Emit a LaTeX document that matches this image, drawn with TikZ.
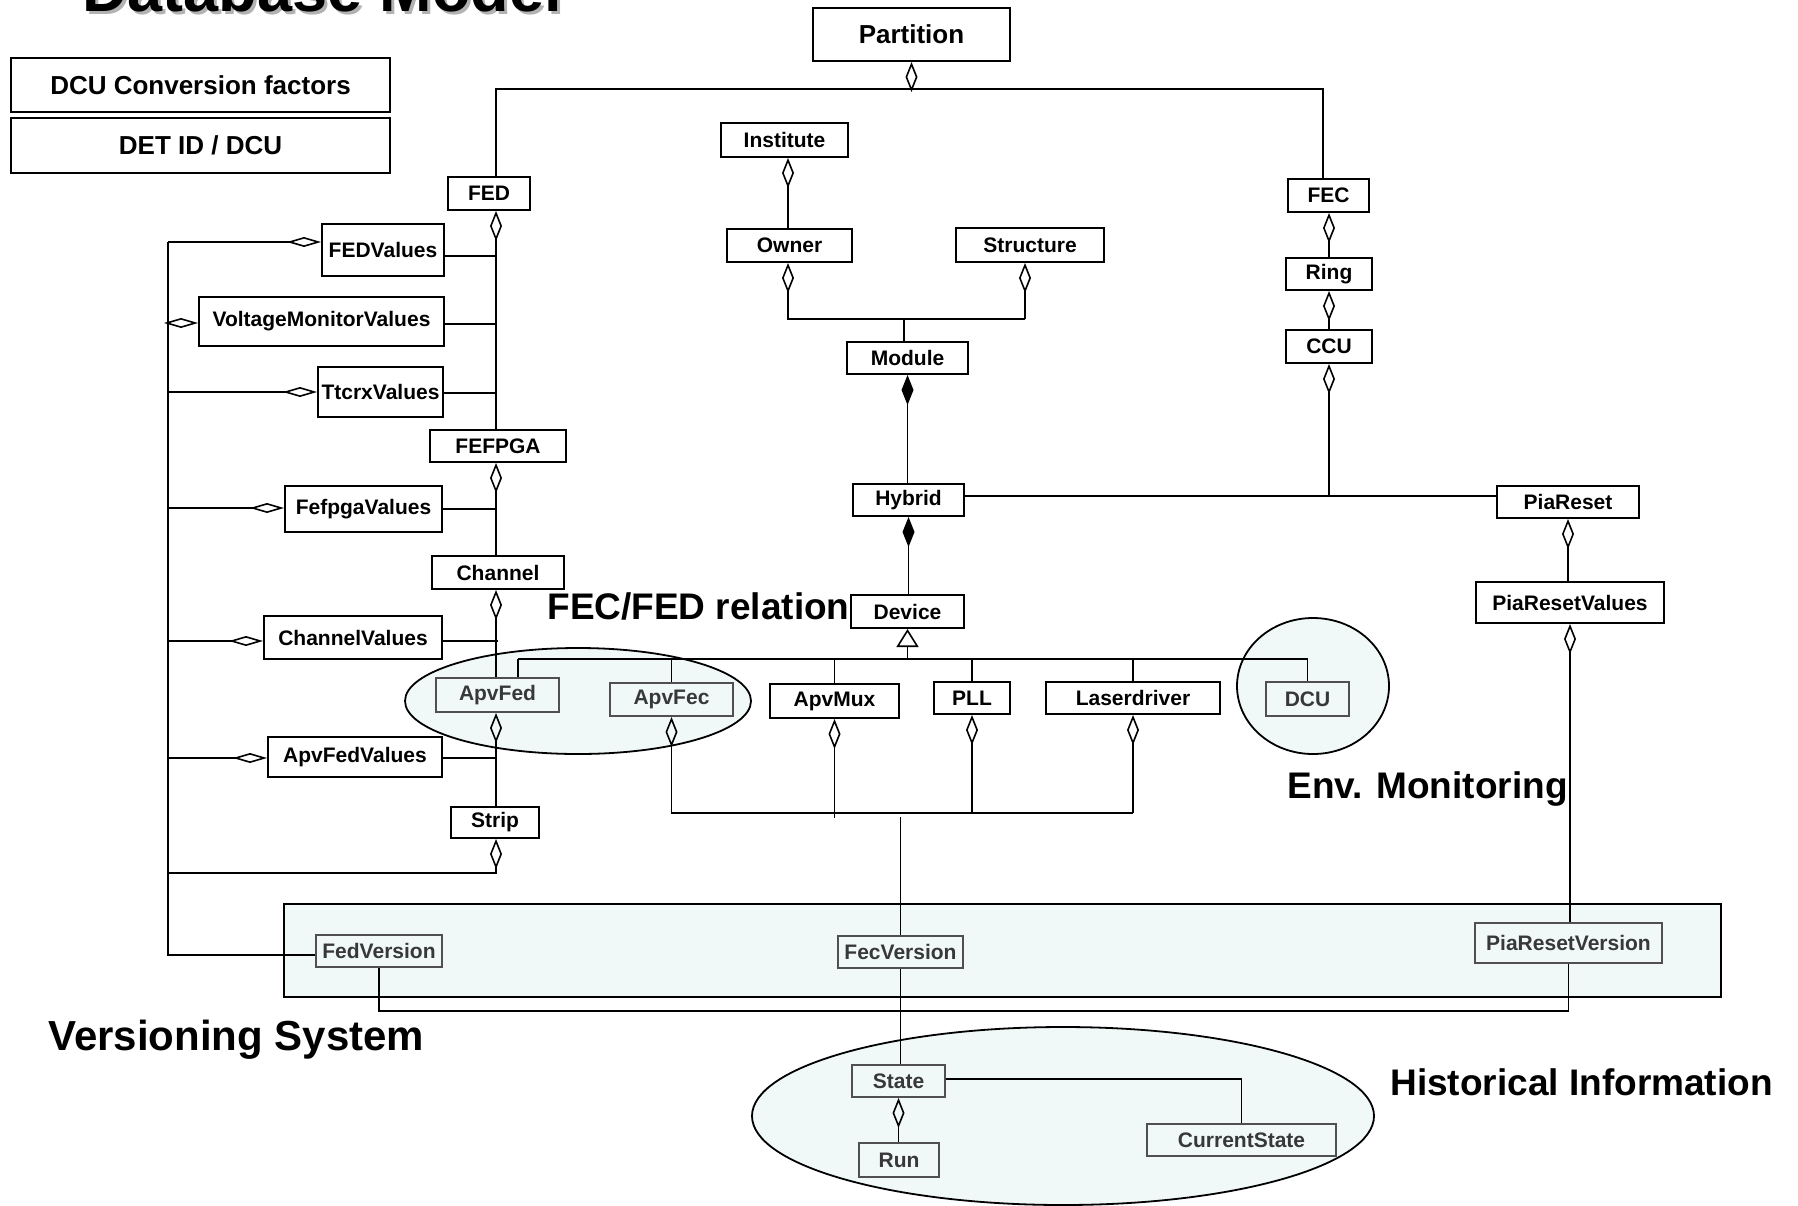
\documentclass[tikz,border=0pt]{standalone}
\usepackage{fontspec}
\setmainfont{Liberation Sans}
\usetikzlibrary{arrows.meta}
\definecolor{regfill}{HTML}{F0F8F8}
\definecolor{vline}{HTML}{505050}
\definecolor{vtext}{HTML}{383838}
\begin{document}
\begin{tikzpicture}[x=0.5pt,y=-0.5pt,
  cls/.style 2 args={draw=black, line width=1pt, fill=white, inner sep=0pt,
    minimum width=#1*0.5pt, minimum height=#2*0.5pt,
    font=\fontsize{10.5pt}{12pt}\selectfont\bfseries},
  ver/.style 2 args={cls={#1}{#2}, draw=vline, fill=regfill, text=vtext},
  note/.style 2 args={draw=black, line width=1.1pt, fill=white, inner sep=0pt,
    minimum width=#1*0.5pt, minimum height=#2*0.5pt,
    font=\fontsize{13pt}{15pt}\selectfont\bfseries},
  big/.style={anchor=base west, inner sep=0pt, font=\fontsize{18.5pt}{22pt}\selectfont\bfseries},
  region/.style={draw=black, line width=0.9pt, fill=regfill},
  conn/.style={line width=0.8pt},
  dv/.style={{Diamond[open,length=15pt,width=6pt]}-},
  dh/.style={{Diamond[open,length=17pt,width=5pt]}-},
  df/.style={{Diamond[length=15pt,width=6pt]}-},
  gen/.style={{Triangle[open,length=9pt,width=11pt]}-}
]
\useasboundingbox (0,0) rectangle (1798,1205);

% title, partly above the page edge, with its drop shadow
\node[anchor=base west, inner sep=0pt, text=black!30,
  font=\fontsize{31.5pt}{36pt}\selectfont\bfseries] at (85,14) {Database Model};
\node[anchor=base west, inner sep=0pt,
  font=\fontsize{31.5pt}{36pt}\selectfont\bfseries] (title) at (82,11) {Database Model};

% shaded groupings
\draw[region] (578,701) ellipse [x radius=173, y radius=53];
\draw[region] (1313,686) ellipse [x radius=76, y radius=68];
\draw[region] (1063,1116) ellipse [x radius=311, y radius=89];
\draw[region, line width=1.1pt] (284,904) rectangle (1721,997);

% group labels
\node[big] (lfecfed) at (547,619) {FEC/FED relation};
\node[big] (lenv) at (1287,798) {Env. Monitoring};
\node[big, font=\fontsize{21pt}{25pt}\selectfont\bfseries] (lvers) at (48,1050) {Versioning System};
\node[big] (lhist) at (1390,1095) {Historical Information};

% stand-alone tables
\node[note={379}{54}] (dcuconv) at (200.5,85) {DCU Conversion factors};
\node[note={379}{55}] (detid) at (200.5,145.5) {DET ID / DCU};

% classes
\node[cls={197}{53}, font=\fontsize{13pt}{15pt}\selectfont\bfseries] (partition) at (911.5,34.5) {Partition};
\node[cls={82}{33}] (fed) at (489,193.5) {FED};
\node[cls={81}{33}] (fec) at (1328.5,195.5) {FEC};
\node[cls={127}{34}] (institute) at (784.5,140) {Institute};
\node[cls={125}{33}] (owner) at (789.5,245.5) {Owner};
\node[cls={148}{34}] (structure) at (1030,245) {Structure};
\node[cls={121}{32}] (module) at (907.5,358) {Module};
\node[cls={86}{32}] (ring) at (1329,274) {Ring};
\node[cls={86}{33}] (ccu) at (1329,346.5) {CCU};
\node[cls={111}{32}] (hybrid) at (908.5,500) {Hybrid};
\node[cls={142}{32}] (piareset) at (1568,502) {PiaReset};
\node[cls={188}{41}] (piaresetvalues) at (1570,602.5) {PiaResetValues};
\node[cls={113}{33}] (device) at (907.5,611.5) {Device};
\node[cls={122}{52}] (fedvalues) at (383,250) {FEDValues};
\node[cls={245}{49}] (voltage) at (321.5,321.5) {VoltageMonitorValues};
\node[cls={125}{50}] (ttcrx) at (380.5,392) {TtcrxValues};
\node[cls={136}{32}] (fefpga) at (498,446) {FEFPGA};
\node[cls={157}{46}] (fefpgavalues) at (363.5,509) {FefpgaValues};
\node[cls={132}{33}] (channel) at (498,572.5) {Channel};
\node[cls={178}{43}] (channelvalues) at (353,637.5) {ChannelValues};
\node[cls={129}{34}] (apvmux) at (834.5,701) {ApvMux};
\node[cls={76}{32}] (pll) at (972,698) {PLL};
\node[cls={174}{32}] (laser) at (1133,698) {Laserdriver};
\node[cls={174}{40}] (apvfedvalues) at (355,757) {ApvFedValues};
\node[cls={88}{31}] (strip) at (495,822.5) {Strip};

% classes inside the shaded groupings
\node[ver={123}{34}] (apvfed) at (497.5,695) {ApvFed};
\node[ver={123}{33}] (apvfec) at (671.5,699.5) {ApvFec};
\node[ver={83}{34}] (dcu) at (1307.5,699) {DCU};
\node[ver={126}{32}] (fedversion) at (379,951) {FedVersion};
\node[ver={125}{32}] (fecversion) at (900.5,952) {FecVersion};
\node[ver={187}{40}] (piaresetversion) at (1568.5,943) {PiaResetVersion};
\node[ver={93}{32}] (state) at (898.5,1081) {State};
\node[ver={80}{34}] (run) at (899,1160) {Run};
\node[ver={189}{32}] (currentstate) at (1241.5,1140) {CurrentState};

\begin{scope}[conn]
% partition to FED and FEC
\coordinate (tl) at (496,89);
\coordinate (tr) at (1323,89);
\draw[dv] (partition.south) -- (partition.south |- tl);
\draw (fed.north -| tl) -- (tl) -- (tr) -- (fec.north -| tr);

% FED trunk
\coordinate (ft) at (496,0);
\coordinate (sb) at (168,873);
\draw[dv] (fed.south -| ft) -- (fefpga.north -| ft);
\draw[dv] (fefpga.south -| ft) -- (channel.north -| ft);
\draw[dv] (channel.south -| ft) -- (apvfed.north -| ft);
\draw[dv] (apvfed.south -| ft) -- (strip.north -| ft);
\draw[dv] (strip.south -| ft) -- (ft |- sb) -- (sb);

% value tables hanging off the trunk
\coordinate (r1) at (496,256);
\coordinate (r2) at (496,324);
\coordinate (r3) at (496,393);
\coordinate (r4) at (496,509);
\coordinate (r5) at (498,641);
\coordinate (r6) at (496,758);
\draw (r1) -- (fedvalues.east |- r1);
\draw (r2) -- (voltage.east |- r2);
\draw (r3) -- (ttcrx.east |- r3);
\draw (r4) -- (fefpgavalues.east |- r4);
\draw (r5) -- (channelvalues.east |- r5);
\draw (r6) -- (apvfedvalues.east |- r6);

% left bus to the FED version
\coordinate (lt) at (168,242);
\coordinate (l2) at (168,323);
\coordinate (l3) at (168,392);
\coordinate (l4) at (168,508);
\coordinate (l5) at (168,641);
\coordinate (l6) at (168,758);
\coordinate (lb) at (168,955);
\draw (lt) -- (lb) -- (fedversion.west |- lb);
\draw[dh] (fedvalues.west |- lt) -- (lt);
\draw[dh] (voltage.west |- l2) -- (l2);
\draw[dh] (ttcrx.west |- l3) -- (l3);
\draw[dh] (fefpgavalues.west |- l4) -- (l4);
\draw[dh] (channelvalues.west |- l5) -- (l5);
\draw[dh] (apvfedvalues.west |- l6) -- (l6);

% FEC chain
\coordinate (ct) at (1329,0);
\coordinate (hj) at (1329,496);
\draw[dv] (fec.south -| ct) -- (ring.north -| ct);
\draw[dv] (ring.south -| ct) -- (ccu.north -| ct);
\draw[dv] (ccu.south -| ct) -- (hj);
\draw (hybrid.east |- hj) -- (piareset.west |- hj);

% institute, owner, structure, module
\coordinate (ox) at (788,319);
\coordinate (sx) at (1025,319);
\coordinate (mx) at (904,319);
\draw[dv] (institute.south -| ox) -- (owner.north -| ox);
\draw[dv] (owner.south -| ox) -- (ox) -- (sx);
\draw[dv] (structure.south -| sx) -- (sx);
\draw (mx) -- (module.north -| mx);

% composition module - hybrid - device
\draw[df] (module.south) -- (module.south |- hybrid.north);
\draw[df] (hybrid.south) -- (hybrid.south |- device.north);

% device specialisations
\coordinate (g1) at (518,659);
\coordinate (g6) at (1307.5,659);
\draw[gen] (device.south) -- (device.south |- g1);
\draw (g1) -- (g6);
\draw (g1) -- (g1 |- apvfed.north);
\foreach \n in {apvfec,apvmux,pll,laser,dcu}
  \draw (\n.north |- g1) -- (\n.north);

% FEC devices to the FEC version
\coordinate (b1) at (0,813);
\coordinate (b2) at (0,818);
\coordinate (b3) at (0,817);
\draw[dv] (apvfec.south) -- (apvfec.south |- b1) -- (laser.south |- b1);
\draw[dv] (apvmux.south) -- (apvmux.south |- b2);
\draw[dv] (pll.south) -- (pll.south |- b1);
\draw[dv] (laser.south) -- (laser.south |- b1);
\draw (fecversion.north |- b3) -- (fecversion.north);
\draw (fecversion.south) -- (fecversion.south |- state.north);

% PIA reset chain
\coordinate (vb) at (0,1011);
\draw[dv] (piareset.south) -- (piareset.south |- piaresetvalues.north);
\draw[dv] (piaresetvalues.south) -- (piaresetvalues.south |- piaresetversion.north);
\draw (piaresetversion.south) -- (piaresetversion.south |- vb) -| (fedversion.south);

% state history
\coordinate (sc) at (1241,1079);
\draw (state.east |- sc) -| (currentstate.north);
\draw[dv] (state.south) -- (state.south |- run.north);
\end{scope}
\end{tikzpicture}
\end{document}
